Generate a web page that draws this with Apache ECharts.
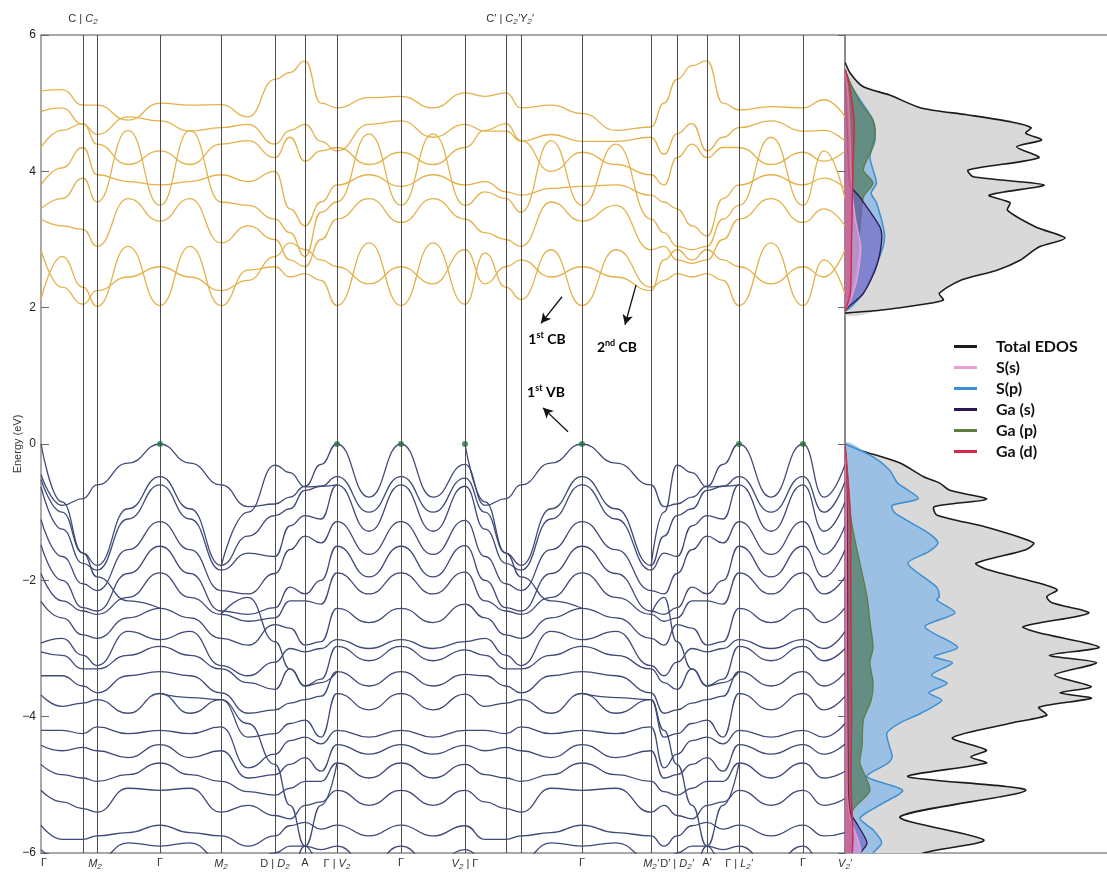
<!DOCTYPE html>
<html>
<head>
<meta charset="utf-8">
<script src="https://cdn.jsdelivr.net/npm/echarts@6/dist/echarts.min.js"></script>
<style>
  html, body { margin: 0; padding: 0; background: #ffffff; }
  #chart { width: 1107px; height: 876px; }
</style>
</head>
<body>
<div id="chart"></div>
<script>
// ---------- k-path (arbitrary path-length units) ----------
const kPath = [0, 0.21, 0.42, 0.56, 0.87, 1.19, 1.49, 1.80, 2.07, 2.34, 2.49, 2.64, 2.80, 2.96,
  3.28, 3.60, 3.92, 4.24, 4.44, 4.65, 4.80, 5.10, 5.41, 5.75, 6.10, 6.23, 6.36, 6.51, 6.66, 6.82,
  6.98, 7.30, 7.62, 7.83, 8.04];

const highSymK = [0.42, 0.56, 1.19, 1.80, 2.34, 2.64, 2.96, 3.60, 4.24, 4.65, 4.80, 5.41, 6.10, 6.36, 6.66, 6.98, 7.62];

const bottomLabelK = [0.03, 0.54, 1.19, 1.80, 2.34, 2.64, 2.96, 3.60, 4.24, 5.41, 6.10, 6.36, 6.66, 6.98, 7.62, 8.04];
const bottomLabelText = ['Γ', '{i|M}{s|2}', 'Γ', '{i|M}{s|2}', 'D | {i|D}{s|2}', 'A', 'Γ | {i|V}{s|2}', 'Γ',
  '{i|V}{s|2} | Γ', 'Γ', '{i|M}{s|2}{i|′}', 'D′ | {i|D}{s|2}{i|′}', 'A′', 'Γ | {i|L}{s|2}{i|′}', 'Γ', '{i|V}{s|2}{i|′}'];
const topLabelK = [0.42, 4.69];
const topLabelText = ['C | {i|C}{s|2}', 'C′ | {i|C}{s|2}{i|′}{i|Y}{s|2}{i|′}'];

const energyTicks = [-6, -4, -2, 0, 2, 4, 6];

// valence-band maxima (E = 0) marked with dots
const vbmK = [1.19, 2.96, 3.60, 4.24, 5.41, 6.98, 7.62];

// ---------- valence bands: energy (eV) at each kPath point ----------
const valenceBands = [
  [-0.45, -0.90, -0.80, -0.60, -0.28, 0.00, -0.28, -0.60, -0.92, -0.88, -0.78, -0.62, -0.30, 0.00, -0.78, 0.00, -0.78, -0.30, -0.90, -0.80, -0.60, -0.28, 0.00, -0.28, -0.60, -0.92, -0.88, -0.78, -0.62, -0.30, 0.00, -0.78, 0.00, -0.78, -0.30],
  [-0.52, -1.00, -1.60, -1.78, -0.95, -0.48, -0.95, -1.78, -1.35, -1.05, -0.95, -0.68, -0.62, -0.48, -1.00, -0.48, -1.00, -0.50, -1.00, -1.60, -1.78, -0.95, -0.48, -0.95, -1.78, -1.35, -1.05, -0.95, -0.68, -0.62, -0.48, -1.00, -0.48, -1.00, -0.55],
  [-0.63, -1.25, -1.75, -1.85, -1.10, -0.60, -1.10, -1.85, -1.60, -1.65, -1.20, -1.05, -1.10, -0.60, -1.28, -0.60, -1.28, -0.62, -1.25, -1.75, -1.85, -1.10, -0.60, -1.10, -1.85, -1.60, -1.65, -1.20, -1.05, -1.10, -0.60, -1.28, -0.60, -1.28, -0.85],
  [-1.11, -1.65, -2.05, -2.15, -1.55, -1.14, -1.55, -2.15, -2.20, -1.90, -1.55, -1.35, -1.45, -1.14, -1.62, -1.14, -1.62, -1.12, -1.65, -2.05, -2.15, -1.55, -1.14, -1.55, -2.15, -2.20, -1.90, -1.55, -1.35, -1.45, -1.14, -1.62, -1.14, -1.62, -1.20],
  [-1.48, -2.00, -2.40, -2.45, -1.90, -1.50, -1.90, -2.45, -2.50, -2.40, -2.10, -2.20, -2.00, -1.50, -1.95, -1.50, -1.95, -1.49, -2.00, -2.40, -2.45, -1.90, -1.50, -1.90, -2.45, -2.50, -2.40, -2.10, -2.20, -2.00, -1.50, -1.95, -1.50, -1.95, -1.55],
  [-1.90, -2.30, -2.45, -2.50, -2.25, -1.89, -2.25, -2.50, -2.60, -2.55, -2.30, -2.30, -2.35, -1.89, -2.20, -1.89, -2.20, -1.88, -2.30, -2.45, -2.50, -2.25, -1.89, -2.25, -2.50, -2.60, -2.55, -2.30, -2.30, -2.35, -1.89, -2.20, -1.89, -2.20, -1.95],
  [-2.31, -2.55, -2.80, -2.85, -2.55, -2.41, -2.55, -2.85, -2.95, -2.65, -2.70, -2.95, -2.90, -2.41, -2.62, -2.41, -2.62, -2.35, -2.55, -2.80, -2.85, -2.55, -2.41, -2.55, -2.85, -2.95, -2.65, -2.70, -2.95, -2.90, -2.41, -2.62, -2.41, -2.62, -2.40],
  [-2.92, -2.85, -3.10, -3.25, -2.75, -2.87, -2.75, -3.25, -3.40, -3.20, -3.00, -3.05, -3.00, -2.87, -3.00, -2.87, -3.00, -2.90, -2.85, -3.10, -3.25, -2.75, -2.87, -2.75, -3.25, -3.40, -3.20, -3.00, -3.05, -3.00, -2.87, -3.00, -2.87, -3.00, -2.75],
  [-3.05, -3.10, -3.30, -3.30, -3.10, -2.97, -3.10, -3.30, -3.50, -3.60, -3.30, -3.55, -3.45, -2.97, -3.18, -2.97, -3.18, -3.02, -3.10, -3.30, -3.30, -3.10, -2.97, -3.10, -3.30, -3.50, -3.60, -3.30, -3.55, -3.45, -2.97, -3.18, -2.97, -3.18, -3.00],
  [-3.40, -3.40, -3.55, -3.65, -3.40, -3.34, -3.40, -3.65, -3.95, -3.90, -3.80, -3.75, -3.70, -3.34, -3.55, -3.34, -3.55, -3.38, -3.40, -3.55, -3.65, -3.40, -3.34, -3.40, -3.65, -3.95, -3.90, -3.80, -3.75, -3.70, -3.34, -3.55, -3.34, -3.55, -3.35],
  [-3.68, -3.85, -3.80, -3.75, -3.95, -3.66, -3.95, -3.75, -4.30, -4.25, -4.10, -4.05, -4.30, -3.66, -3.90, -3.66, -3.90, -3.67, -3.85, -3.80, -3.75, -3.95, -3.66, -3.95, -3.75, -4.30, -4.25, -4.10, -4.05, -4.30, -3.66, -3.90, -3.66, -3.90, -3.70],
  [-4.20, -4.20, -4.25, -4.15, -4.25, -4.20, -4.25, -4.15, -4.75, -4.55, -4.35, -4.30, -4.40, -4.20, -4.30, -4.20, -4.30, -4.20, -4.20, -4.25, -4.15, -4.25, -4.20, -4.25, -4.15, -4.75, -4.55, -4.35, -4.30, -4.40, -4.20, -4.30, -4.20, -4.30, -4.10],
  [-4.42, -4.50, -4.45, -4.50, -4.60, -4.41, -4.60, -4.50, -4.90, -4.85, -4.70, -4.60, -4.80, -4.41, -4.55, -4.41, -4.55, -4.42, -4.50, -4.45, -4.50, -4.60, -4.41, -4.60, -4.50, -4.90, -4.85, -4.70, -4.60, -4.80, -4.41, -4.55, -4.41, -4.55, -4.40],
  [-4.70, -4.85, -4.90, -4.95, -4.85, -4.68, -4.85, -4.95, -5.10, -5.15, -5.05, -4.95, -4.95, -4.68, -4.90, -4.68, -4.90, -4.70, -4.85, -4.90, -4.95, -4.85, -4.68, -4.85, -4.95, -5.10, -5.15, -5.05, -4.95, -4.95, -4.68, -4.90, -4.68, -4.90, -4.80],
  [-5.08, -5.25, -5.35, -5.40, -5.05, -5.08, -5.05, -5.40, -5.30, -5.45, -5.50, -5.30, -5.25, -5.08, -5.30, -5.08, -5.30, -5.08, -5.25, -5.35, -5.40, -5.05, -5.08, -5.05, -5.40, -5.30, -5.45, -5.50, -5.30, -5.25, -5.08, -5.30, -5.08, -5.30, -5.20],
  [-5.59, -5.80, -5.80, -5.75, -5.70, -5.59, -5.70, -5.75, -5.90, -5.75, -5.60, -5.55, -5.65, -5.59, -5.75, -5.59, -5.75, -5.60, -5.80, -5.80, -5.75, -5.70, -5.59, -5.70, -5.75, -5.90, -5.75, -5.60, -5.55, -5.65, -5.59, -5.75, -5.59, -5.75, -5.70],
  [-5.95, -6.10, -6.20, -6.10, -5.85, -5.90, -5.85, -6.10, -6.20, -6.00, -5.90, -5.90, -5.95, -5.90, -6.20, -5.90, -6.20, -5.95, -6.10, -6.20, -6.10, -5.85, -5.90, -5.85, -6.10, -6.20, -6.00, -5.90, -5.90, -5.95, -5.90, -6.20, -5.90, -6.20, -6.00]
];

// valence bands that cut steeply across the others: [k, E] pairs
const crossingBands = [
  [[0, 0], [0.21, -0.85], [0.42, -1.6], [0.56, -1.95], [0.87, -2.3], [1.19, -2.41]],
  [[4.24, 0], [4.44, -0.85], [4.65, -1.6], [4.80, -1.95], [5.10, -2.3], [5.41, -2.41]],
  [[1.80, -1.8], [2.07, -1.0], [2.34, -0.31], [2.49, -0.42], [2.64, -0.63], [2.80, -0.62], [2.96, -0.6]],
  [[6.10, -1.8], [6.23, -1.0], [6.36, -0.31], [6.51, -0.42], [6.66, -0.63], [6.82, -0.62], [6.98, -0.6]],
  [[1.80, -2.5], [2.07, -2.25], [2.34, -2.9], [2.49, -3.3], [2.64, -3.55], [2.80, -3.5], [2.96, -3.34]],
  [[6.10, -2.5], [6.23, -2.25], [6.36, -2.9], [6.51, -3.3], [6.66, -3.55], [6.82, -3.5], [6.98, -3.34]],
  [[1.19, -3.66], [1.49, -3.72], [1.80, -3.75], [2.07, -4.1], [2.34, -4.7], [2.49, -5.3], [2.64, -5.9], [2.80, -6.4]],
  [[2.34, -6.6], [2.49, -6.3], [2.64, -5.9], [2.80, -5.3], [2.96, -4.68]],
  [[5.41, -3.66], [5.75, -3.72], [6.10, -3.75], [6.23, -4.2], [6.36, -4.7], [6.51, -5.3], [6.66, -5.9], [6.82, -6.4]],
  [[6.36, -6.6], [6.51, -6.3], [6.66, -5.9], [6.82, -5.3], [6.98, -4.68]]
];

// ---------- conduction bands: energy (eV) at each kPath point ----------
const conductionBands = [
  [2.12, 2.75, 2.30, 2.02, 2.90, 2.03, 2.90, 2.03, 2.55, 2.60, 2.45, 2.50, 2.40, 2.03, 2.95, 2.03, 2.95, 2.05, 2.80, 2.30, 2.12, 2.85, 2.03, 2.85, 2.30, 2.40, 2.50, 2.45, 2.50, 2.40, 2.03, 2.95, 2.03, 2.70, 2.20],
  [2.85, 2.30, 2.05, 2.25, 2.45, 2.60, 2.45, 2.25, 2.40, 2.75, 2.95, 2.85, 2.70, 2.60, 2.35, 2.60, 2.35, 2.85, 2.35, 2.60, 2.70, 2.45, 2.60, 2.45, 2.25, 2.70, 2.85, 2.70, 2.85, 2.70, 2.60, 2.35, 2.60, 2.45, 2.85],
  [3.30, 3.20, 3.15, 2.90, 3.60, 3.27, 3.60, 2.95, 3.20, 3.00, 2.70, 2.60, 3.00, 3.30, 3.60, 3.25, 3.60, 3.30, 3.10, 3.00, 2.90, 3.55, 3.27, 3.50, 2.85, 2.90, 2.70, 2.65, 2.70, 3.00, 3.30, 3.60, 3.25, 3.45, 3.20],
  [3.45, 3.60, 3.90, 3.55, 4.60, 3.50, 4.60, 3.55, 3.50, 3.30, 3.10, 2.75, 3.40, 3.55, 4.55, 3.50, 4.55, 3.50, 3.70, 3.60, 3.40, 4.45, 3.50, 4.40, 3.30, 3.10, 2.90, 2.85, 2.90, 3.30, 3.50, 4.50, 3.50, 4.30, 3.60],
  [3.80, 4.05, 4.35, 3.95, 3.85, 3.80, 3.85, 3.95, 3.85, 4.00, 3.45, 3.20, 3.55, 3.80, 3.95, 3.78, 3.95, 3.80, 3.85, 3.70, 3.65, 3.75, 3.78, 3.80, 3.65, 3.55, 3.45, 3.20, 3.05, 3.60, 3.80, 3.95, 3.80, 3.90, 3.75],
  [4.35, 4.60, 4.70, 4.40, 4.10, 4.30, 4.10, 4.40, 4.45, 4.20, 4.50, 4.15, 4.30, 4.35, 4.10, 4.28, 4.10, 4.35, 4.60, 4.70, 4.45, 4.00, 4.28, 4.10, 3.95, 3.80, 4.20, 4.40, 4.20, 4.35, 4.35, 4.10, 4.28, 4.15, 4.30],
  [4.88, 4.93, 4.69, 4.54, 4.80, 4.74, 4.59, 4.64, 4.69, 4.40, 4.60, 4.69, 4.44, 4.30, 4.69, 4.74, 4.50, 4.69, 4.59, 4.59, 4.44, 4.54, 4.44, 4.44, 4.50, 4.25, 4.55, 4.70, 4.30, 4.50, 4.64, 4.74, 4.59, 4.60, 4.44],
  [5.18, 5.20, 4.97, 4.97, 4.75, 5.00, 4.97, 4.98, 4.80, 5.35, 5.45, 5.62, 5.00, 4.93, 5.08, 5.10, 4.93, 5.15, 5.10, 5.15, 4.93, 4.97, 4.85, 4.60, 4.65, 5.00, 5.35, 5.55, 5.62, 5.00, 4.90, 4.95, 4.93, 5.05, 4.80]
];

// ---------- density of states: [E (eV), DOS (arb. units)] ----------
const totalDosValence = [[0, 0], [-0.09, 5.7], [-0.28, 21], [-0.48, 30], [-0.57, 36], [-0.68, 40], [-0.81, 54], [-0.92, 34], [-1.04, 35], [-1.22, 54], [-1.45, 72], [-1.55, 69], [-1.75, 50], [-1.85, 55], [-2.04, 74], [-2.14, 81], [-2.24, 77], [-2.33, 79], [-2.48, 93], [-2.68, 68], [-2.77, 74], [-2.98, 97], [-3.10, 78], [-3.21, 96], [-3.39, 80], [-3.56, 94], [-3.65, 82], [-3.73, 94], [-3.86, 74], [-3.98, 77], [-4.09, 64], [-4.31, 41], [-4.49, 54], [-4.59, 48], [-4.68, 54], [-4.88, 24], [-5.08, 69], [-5.47, 21], [-5.81, 53], [-6.0, 30], [-6.3, 12]];
const totalDosConduction = [[1.92, 0], [1.97, 15], [2.05, 30], [2.11, 37.5], [2.21, 36], [2.4, 44], [2.55, 58], [2.7, 67], [2.89, 74], [3.02, 84], [3.18, 73], [3.43, 62], [3.54, 63], [3.65, 55], [3.8, 76], [3.92, 49], [4.02, 47], [4.2, 74], [4.36, 65.5], [4.46, 75], [4.56, 69], [4.64, 71], [4.72, 64], [4.83, 46.5], [4.93, 29], [5.12, 17], [5.24, 7], [5.44, 2], [5.6, 0]];

const sPDosValence = [[0, 0], [-0.19, 10.7], [-0.38, 17], [-0.57, 20], [-0.8, 28], [-0.9, 18], [-1.01, 19], [-1.31, 32], [-1.45, 35.5], [-1.58, 32], [-1.75, 24], [-2.1, 35], [-2.24, 36], [-2.29, 35], [-2.48, 42], [-2.68, 30.5], [-2.98, 43], [-3.12, 34], [-3.21, 41], [-3.39, 33], [-3.51, 39], [-3.65, 32], [-3.76, 37], [-3.95, 29], [-4.09, 21], [-4.24, 16], [-4.44, 17], [-4.59, 18], [-4.68, 16.5], [-4.88, 8.4], [-5.08, 22], [-5.27, 14.5], [-5.49, 5.7], [-5.66, 10.7], [-5.85, 14], [-6.0, 10.7], [-6.3, 5]];
const sPDosConduction = [[1.95, 0], [2.0, 2], [2.21, 7], [2.51, 10.7], [2.89, 14.5], [3.1, 15], [3.54, 12], [3.68, 10], [3.83, 12], [4.21, 9.5], [4.46, 11.5], [4.75, 10.7], [5.05, 5.7], [5.4, 0]];

const gaPDosValence = [[0, 0], [-0.5, 1], [-1.0, 2], [-1.26, 3], [-1.75, 5.7], [-2.24, 8.4], [-2.6, 9.5], [-2.98, 10.7], [-3.21, 9.5], [-3.5, 10.7], [-3.76, 10], [-4.05, 7], [-4.44, 6.5], [-4.68, 5.7], [-5.08, 9.5], [-5.37, 3], [-5.66, 2], [-5.9, 3], [-6.3, 2]];
const gaPDosConduction = [[1.95, 0], [2.0, 1], [2.7, 4.5], [3.18, 5.7], [3.62, 7], [3.83, 10.7], [4.02, 7], [4.31, 10], [4.56, 11.5], [4.75, 10.7], [5.0, 6], [5.3, 2], [5.5, 0]];

const gaSDosValence = [[0, 0], [-1, 0.8], [-3, 1], [-5, 1.2], [-5.4, 2], [-5.6, 5], [-5.85, 8.4], [-6.0, 6], [-6.3, 3]];
const gaSDosConduction = [[1.95, 0], [2.0, 1], [2.21, 7], [2.6, 12], [2.99, 14], [3.18, 13.4], [3.62, 5.7], [3.8, 2], [4.5, 1], [5.4, 0]];

const sSDosValence = [[0, 0], [-1, 0.5], [-5, 0.8], [-5.5, 2], [-5.8, 5], [-6.0, 6], [-6.3, 4]];
const sSDosConduction = [[1.95, 0], [2.2, 3], [2.5, 5], [2.9, 6], [3.3, 4], [3.8, 2.5], [4.5, 2], [5.2, 1], [5.5, 0]];

const gaDDosValence = [[0, 0], [-1, 2], [-2, 2.2], [-3, 2.3], [-4, 2.5], [-5, 2.3], [-5.8, 3], [-6.3, 2]];
const gaDDosConduction = [[1.95, 0], [2.2, 2], [3, 2.5], [4, 3], [4.7, 3.5], [5.2, 2], [5.5, 0]];

// ---------- styling ----------
const VB_COLOR = '#3f4a78';
const CB_COLOR = '#e4b24c';
const AXIS_GRAY = '#8c8c8c';
const LABEL_FONT = 'Liberation Sans';
const NOTE_FONT = 'Lato';

const richSub = {
  i: { fontStyle: 'italic', fontSize: 11, color: '#333', fontFamily: LABEL_FONT, lineHeight: 14 },
  s: { fontStyle: 'italic', fontSize: 8, color: '#333', fontFamily: LABEL_FONT, lineHeight: 9, verticalAlign: 'bottom' }
};

function nearestLabel(keys, texts, value) {
  let best = 0;
  for (let i = 1; i < keys.length; i++) {
    if (Math.abs(keys[i] - value) < Math.abs(keys[best] - value)) best = i;
  }
  return texts[best];
}

const series = [];

// vertical high-symmetry lines
series.push({
  type: 'line', xAxisIndex: 0, yAxisIndex: 0, data: [], z: 1, silent: true,
  markLine: {
    silent: true, symbol: ['none', 'none'], label: { show: false }, animation: false,
    lineStyle: { color: '#4d4d4d', width: 1, type: 'solid' },
    emphasis: { disabled: true },
    data: highSymK.map(k => ({ xAxis: k }))
  }
});

function bandSeries(points, color) {
  return {
    type: 'line', xAxisIndex: 0, yAxisIndex: 0, data: points,
    smooth: 0.5, smoothMonotone: 'x', showSymbol: false, symbol: 'none',
    lineStyle: { color: color, width: 1.3 }, silent: true, z: 2, clip: true
  };
}

valenceBands.forEach(row => series.push(bandSeries(kPath.map((k, i) => [k, row[i]]), VB_COLOR)));
crossingBands.forEach(pts => series.push(bandSeries(pts, VB_COLOR)));
conductionBands.forEach(row => series.push(bandSeries(kPath.map((k, i) => [k, row[i]]), CB_COLOR)));

// VBM dots
series.push({
  type: 'scatter', xAxisIndex: 0, yAxisIndex: 0, silent: true, z: 4,
  data: vbmK.map(k => [k, 0]), symbolSize: 6, itemStyle: { color: '#1d7a3c' }
});

// annotation arrows (tail -> head)
series.push({
  type: 'line', xAxisIndex: 0, yAxisIndex: 0, data: [], z: 5, silent: true,
  markLine: {
    silent: true, animation: false, symbol: ['none', 'arrow'], symbolSize: [8, 10],
    label: { show: false }, emphasis: { disabled: true },
    lineStyle: { color: '#111', width: 1.3, type: 'solid' },
    data: [
      [{ coord: [5.21, 2.16] }, { coord: [5.00, 1.77] }],
      [{ coord: [5.95, 2.33] }, { coord: [5.84, 1.75] }],
      [{ coord: [5.27, 0.18] }, { coord: [5.02, 0.53] }]
    ]
  }
});

// annotation text
const noteRich = {
  n: { fontFamily: NOTE_FONT, fontWeight: 'bold', fontSize: 14, color: '#000', lineHeight: 18 },
  sup: { fontFamily: NOTE_FONT, fontWeight: 'bold', fontSize: 9, color: '#000', lineHeight: 9, verticalAlign: 'top' }
};
series.push({
  type: 'scatter', xAxisIndex: 0, yAxisIndex: 0, silent: true, z: 5, symbolSize: 0,
  itemStyle: { opacity: 0 },
  data: [[5.06, 1.53, '{n|1}{sup|st}{n| CB}'], [5.76, 1.42, '{n|2}{sup|nd}{n| CB}'], [5.05, 0.75, '{n|1}{sup|st}{n| VB}']],
  label: {
    show: true, position: 'inside', color: '#000', fontWeight: 'bold', opacity: 1,
    textBorderWidth: 0, formatter: p => p.value[2], rich: noteRich
  }
});

// density-of-states polygons drawn through the DOS panel's axes
function dosRenderer(segments, lineColor, fillColor, lineWidth) {
  return function (params, api) {
    const seg = segments[params.dataIndex];
    const pts = seg.map(p => api.coord([p[1], p[0]]));
    const poly = pts.slice();
    if (seg[0][1] !== 0) poly.unshift(api.coord([0, seg[0][0]]));
    if (seg[seg.length - 1][1] !== 0) poly.push(api.coord([0, seg[seg.length - 1][0]]));
    return {
      type: 'group',
      children: [
        { type: 'polygon', shape: { points: poly, smooth: 0.25 }, style: { fill: fillColor, stroke: null } },
        { type: 'polyline', shape: { points: pts, smooth: 0.25 }, style: { fill: null, stroke: lineColor, lineWidth: lineWidth } }
      ]
    };
  };
}

function dosSeries(name, segments, lineColor, fillColor, lineWidth, z) {
  return {
    name: name, type: 'custom', xAxisIndex: 2, yAxisIndex: 1, clip: true, silent: true, z: z,
    itemStyle: { color: lineColor },
    data: segments.map(() => [0, 0]),
    renderItem: dosRenderer(segments, lineColor, fillColor, lineWidth)
  };
}

series.push(dosSeries('Total EDOS', [totalDosValence, totalDosConduction], '#1b1b1b', '#d9d9d9', 1.6, 2));
series.push(dosSeries('S(p)', [sPDosValence, sPDosConduction], '#3a8fd6', 'rgba(140,185,230,0.8)', 1.5, 3));
series.push(dosSeries('Ga (p)', [gaPDosValence, gaPDosConduction], '#5f7d3e', 'rgba(70,115,80,0.65)', 1.3, 4));
series.push(dosSeries('Ga (s)', [gaSDosValence, gaSDosConduction], '#2d1650', 'rgba(110,90,190,0.6)', 1.3, 5));
series.push(dosSeries('S(s)', [sSDosValence, sSDosConduction], '#e7a0d8', 'rgba(235,170,225,0.6)', 1.3, 6));
series.push(dosSeries('Ga (d)', [gaDDosValence, gaDDosConduction], '#d6284a', 'rgba(214,40,74,0.35)', 1.5, 7));

const option = {
  animation: false,
  backgroundColor: '#ffffff',
  textStyle: { fontFamily: LABEL_FONT },
  grid: [
    { left: 41, top: 35, width: 804, bottom: 23, containLabel: false, outerBoundsMode: 'none' },
    { left: 845, top: 35, right: 0, bottom: 23, containLabel: false, outerBoundsMode: 'none' }
  ],
  legend: {
    data: ['Total EDOS', 'S(s)', 'S(p)', 'Ga (s)', 'Ga (p)', 'Ga (d)'],
    orient: 'vertical', left: 949, top: 331, icon: 'rect',
    itemWidth: 23, itemHeight: 3, itemGap: 0, selectedMode: false,
    textStyle: { fontFamily: NOTE_FONT, fontWeight: 'bold', fontSize: 16, color: '#111', lineHeight: 21, padding: [0, 0, 0, 14] }
  },
  xAxis: [
    {
      gridIndex: 0, type: 'value', min: 0, max: 8.04, position: 'bottom',
      axisLine: { onZero: false, lineStyle: { color: AXIS_GRAY, width: 1.5 } },
      axisTick: { show: false }, splitLine: { show: false },
      axisLabel: {
        customValues: bottomLabelK, margin: 4, fontSize: 11, color: '#333', fontFamily: LABEL_FONT,
        formatter: v => nearestLabel(bottomLabelK, bottomLabelText, v), rich: richSub
      }
    },
    {
      gridIndex: 0, type: 'value', min: 0, max: 8.04, position: 'top',
      axisLine: { onZero: false, lineStyle: { color: AXIS_GRAY, width: 1.5 } },
      axisTick: { show: false }, splitLine: { show: false },
      axisLabel: {
        customValues: topLabelK, margin: 9, fontSize: 11, color: '#333', fontFamily: LABEL_FONT,
        formatter: v => nearestLabel(topLabelK, topLabelText, v), rich: richSub
      }
    },
    {
      gridIndex: 1, type: 'value', min: 0, max: 100, position: 'bottom',
      axisLine: { onZero: false, lineStyle: { color: AXIS_GRAY, width: 1.5 } },
      axisTick: { show: false }, axisLabel: { show: false }, splitLine: { show: false }
    },
    {
      gridIndex: 1, type: 'value', min: 0, max: 100, position: 'top',
      axisLine: { onZero: false, lineStyle: { color: AXIS_GRAY, width: 1.5 } },
      axisTick: { show: false }, axisLabel: { show: false }, splitLine: { show: false }
    }
  ],
  yAxis: [
    {
      gridIndex: 0, type: 'value', min: -6, max: 6, interval: 2,
      name: 'Energy (eV)', nameLocation: 'middle', nameGap: 18, nameRotate: 90, nameMoveOverlap: false,
      nameTextStyle: { fontSize: 11, color: '#333', fontFamily: LABEL_FONT },
      axisLine: { show: true, onZero: false, lineStyle: { color: AXIS_GRAY, width: 1.5 } },
      axisTick: { show: true, inside: true, length: 8, lineStyle: { color: '#666' } },
      axisLabel: {
        customValues: energyTicks, margin: 5, fontSize: 12, color: '#222', fontFamily: LABEL_FONT,
        formatter: v => (v < 0 ? '\u2212' + Math.abs(v) : String(v))
      },
      splitLine: { show: false }
    },
    {
      gridIndex: 1, type: 'value', min: -6, max: 6, interval: 2,
      axisLine: { show: true, onZero: false, lineStyle: { color: '#6b5e60', width: 1.5 } },
      axisTick: { show: true, length: 7, lineStyle: { color: '#666' } },
      axisLabel: { show: false }, splitLine: { show: false }
    }
  ],
  series: series
};

const chart = echarts.init(document.getElementById('chart'), null, { renderer: 'canvas' });
chart.setOption(option);
</script>
</body>
</html>
